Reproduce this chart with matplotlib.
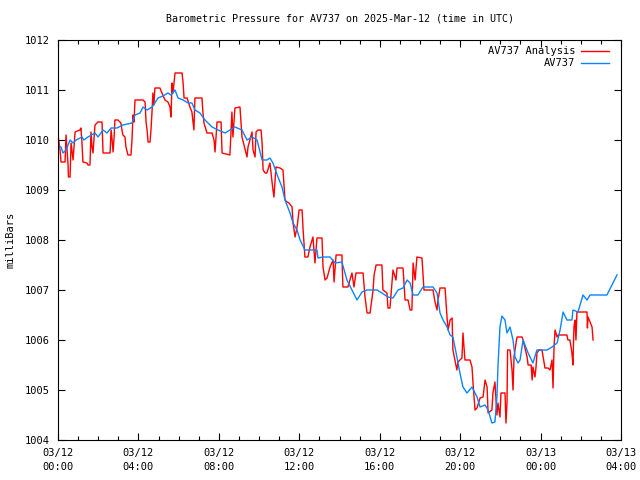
import matplotlib
matplotlib.use("Agg")
import matplotlib.pyplot as plt
from matplotlib.ticker import MultipleLocator

# hours since 2025-03-12 00:00 UTC, pressure in mb
blue_hours = [0.00, 0.15, 0.25, 0.40, 0.60, 0.75, 0.90, 1.19, 1.29, 1.49, 1.84, 1.99, 2.24, 2.44,
              2.64, 2.93, 3.23, 3.68, 3.83, 4.08, 4.23, 4.43, 4.68, 4.82, 4.97, 5.22, 5.47, 5.62,
              5.82, 5.97, 6.22, 6.47, 6.66, 6.81, 7.06, 7.31, 7.66, 7.96, 8.31, 8.55, 8.80, 9.15,
              9.40, 9.65, 9.90, 10.15, 10.39, 10.54, 10.69, 10.94, 11.14, 11.29, 11.54, 11.69,
              11.89, 12.04, 12.28, 12.88, 12.93, 13.18, 13.53, 13.78, 14.12, 14.37, 14.62, 14.87,
              15.12, 15.37, 15.87, 16.11, 16.41, 16.66, 16.91, 17.16, 17.36, 17.51, 17.66, 17.90,
              18.15, 18.65, 18.85, 19.00, 19.15, 19.35, 19.50, 19.64, 19.84, 19.99, 20.14, 20.34,
              20.59, 20.84, 20.99, 21.24, 21.39, 21.58, 21.73, 21.83, 21.88, 21.98, 22.08, 22.23,
              22.33, 22.48, 22.63, 22.73, 22.88, 22.98, 23.13, 23.38, 23.62, 23.82, 24.32, 24.57,
              24.82, 24.97, 25.12, 25.31, 25.56, 25.61, 25.86, 26.11, 26.31, 26.46, 27.30, 27.80]
blue_mb = [1009.86, 1009.86, 1009.74, 1009.80, 1010.00, 1009.94, 1010.00, 1010.06, 1010.00,
           1010.06, 1010.14, 1010.06, 1010.20, 1010.14, 1010.24, 1010.24, 1010.30, 1010.34,
           1010.50, 1010.54, 1010.66, 1010.60, 1010.66, 1010.74, 1010.84, 1010.88, 1010.94,
           1010.90, 1011.00, 1010.84, 1010.80, 1010.74, 1010.74, 1010.60, 1010.54, 1010.40,
           1010.26, 1010.20, 1010.14, 1010.20, 1010.26, 1010.20, 1010.00, 1010.06, 1010.00,
           1009.60, 1009.60, 1009.64, 1009.54, 1009.26, 1009.06, 1008.80, 1008.54, 1008.34,
           1008.20, 1008.00, 1007.80, 1007.80, 1007.64, 1007.66, 1007.66, 1007.54, 1007.56,
           1007.20, 1007.00, 1006.80, 1006.96, 1007.00, 1007.00, 1006.94, 1006.86, 1006.84,
           1007.00, 1007.04, 1007.20, 1007.14, 1006.90, 1006.90, 1007.06, 1007.06, 1006.94,
           1006.54, 1006.40, 1006.26, 1006.10, 1006.06, 1005.66, 1005.34, 1005.06, 1004.94,
           1005.06, 1004.86, 1004.66, 1004.70, 1004.60, 1004.34, 1004.36, 1004.86, 1005.46,
           1006.26, 1006.48, 1006.40, 1006.14, 1006.26, 1006.00, 1005.66, 1005.54, 1005.60,
           1006.00, 1005.74, 1005.54, 1005.80, 1005.80, 1005.86, 1005.94, 1006.20, 1006.56,
           1006.40, 1006.40, 1006.60, 1006.56, 1006.90, 1006.80, 1006.90, 1006.90, 1007.30]

red_hours = [0.00, 0.10, 0.15, 0.35, 0.40, 0.50, 0.52, 0.60, 0.65, 0.75, 0.85, 1.09, 1.14, 1.19,
             1.24, 1.44, 1.49, 1.59, 1.64, 1.69, 1.74, 1.84, 1.99, 2.19, 2.24, 2.59, 2.64, 2.69,
             2.74, 2.79, 2.83, 2.98, 3.13, 3.18, 3.23, 3.33, 3.38, 3.48, 3.63, 3.68, 3.73, 3.78,
             3.83, 4.23, 4.33, 4.38, 4.43, 4.48, 4.58, 4.63, 4.68, 4.72, 4.77, 4.82, 5.07, 5.17,
             5.32, 5.47, 5.57, 5.62, 5.67, 5.72, 5.82, 6.17, 6.22, 6.27, 6.42, 6.56, 6.66, 6.76,
             6.81, 7.16, 7.21, 7.26, 7.41, 7.66, 7.76, 7.81, 7.91, 8.11, 8.16, 8.55, 8.65, 8.70,
             8.80, 9.05, 9.15, 9.40, 9.45, 9.65, 9.70, 9.80, 9.85, 9.95, 10.10, 10.15, 10.20,
             10.30, 10.39, 10.54, 10.69, 10.74, 10.84, 11.04, 11.19, 11.29, 11.39, 11.49, 11.64,
             11.69, 11.79, 11.89, 11.99, 12.14, 12.19, 12.28, 12.43, 12.53, 12.68, 12.78, 12.88,
             13.13, 13.18, 13.28, 13.38, 13.53, 13.68, 13.73, 13.83, 14.12, 14.17, 14.42, 14.62,
             14.72, 14.82, 15.17, 15.27, 15.37, 15.52, 15.67, 15.72, 15.82, 16.11, 16.16, 16.36,
             16.41, 16.51, 16.66, 16.81, 16.86, 17.16, 17.26, 17.41, 17.51, 17.60, 17.66, 17.76,
             17.85, 18.10, 18.15, 18.20, 18.65, 18.75, 18.85, 18.90, 19.00, 19.25, 19.35, 19.40,
             19.50, 19.60, 19.64, 19.74, 19.84, 19.89, 20.09, 20.14, 20.24, 20.49, 20.59, 20.64,
             20.74, 20.84, 20.99, 21.14, 21.24, 21.34, 21.39, 21.58, 21.63, 21.73, 21.83, 21.88,
             21.98, 22.03, 22.23, 22.28, 22.33, 22.36, 22.48, 22.58, 22.63, 22.68, 22.78, 22.83,
             23.08, 23.13, 23.28, 23.33, 23.38, 23.53, 23.58, 23.62, 23.72, 23.77, 23.82, 23.92,
             24.07, 24.22, 24.37, 24.47, 24.57, 24.62, 24.67, 24.72, 24.82, 24.87, 25.31, 25.36,
             25.46, 25.56, 25.61, 25.66, 25.71, 25.76, 25.81, 26.31, 26.33, 26.36, 26.46, 26.56,
             26.61]
red_mb = [1010.10, 1009.80, 1009.56, 1009.56, 1010.10, 1009.50, 1009.26, 1009.26, 1009.94,
          1009.60, 1010.16, 1010.20, 1010.24, 1009.96, 1009.56, 1009.54, 1009.50, 1009.50,
          1010.16, 1009.86, 1009.74, 1010.30, 1010.36, 1010.36, 1009.74, 1009.74, 1010.20,
          1010.00, 1009.76, 1010.06, 1010.40, 1010.40, 1010.34, 1010.20, 1010.10, 1010.06,
          1009.86, 1009.70, 1009.70, 1010.00, 1010.50, 1010.36, 1010.80, 1010.80, 1010.76,
          1010.36, 1010.20, 1009.96, 1009.96, 1010.24, 1010.60, 1010.94, 1010.70, 1011.04,
          1011.04, 1010.94, 1010.80, 1010.76, 1010.66, 1010.46, 1011.14, 1010.94, 1011.34,
          1011.34, 1011.14, 1010.84, 1010.84, 1010.66, 1010.56, 1010.20, 1010.84, 1010.84,
          1010.54, 1010.34, 1010.14, 1010.14, 1010.00, 1009.76, 1010.36, 1010.36, 1009.74,
          1009.70, 1010.56, 1010.06, 1010.64, 1010.66, 1010.06, 1009.66, 1009.86, 1010.16,
          1009.80, 1009.66, 1010.16, 1010.20, 1010.20, 1009.94, 1009.40, 1009.34, 1009.34,
          1009.54, 1009.00, 1008.86, 1009.46, 1009.44, 1009.40, 1008.80, 1008.76, 1008.74,
          1008.66, 1008.34, 1008.06, 1008.26, 1008.60, 1008.60, 1008.20, 1007.66, 1007.66,
          1007.86, 1008.06, 1007.54, 1008.04, 1008.04, 1007.46, 1007.20, 1007.24, 1007.46,
          1007.60, 1007.16, 1007.70, 1007.70, 1007.06, 1007.06, 1007.34, 1007.06, 1007.34,
          1007.34, 1006.86, 1006.54, 1006.54, 1007.00, 1007.30, 1007.50, 1007.50, 1007.00,
          1006.94, 1006.64, 1006.64, 1007.40, 1007.20, 1007.44, 1007.44, 1006.80, 1006.80,
          1006.60, 1006.60, 1007.54, 1007.20, 1007.66, 1007.64, 1007.34, 1007.00, 1007.00,
          1006.76, 1006.60, 1006.80, 1007.04, 1007.04, 1006.44, 1006.20, 1006.40, 1006.44,
          1005.80, 1005.60, 1005.40, 1005.56, 1005.64, 1006.14, 1005.60, 1005.60, 1005.46,
          1005.14, 1004.60, 1004.64, 1004.84, 1004.86, 1005.20, 1005.06, 1004.54, 1004.60,
          1004.94, 1005.16, 1004.50, 1004.74, 1004.46, 1004.94, 1004.94, 1004.34, 1004.74,
          1005.80, 1005.80, 1005.40, 1005.00, 1005.66, 1005.94, 1006.06, 1006.06, 1006.00,
          1005.74, 1005.66, 1005.50, 1005.50, 1005.20, 1005.46, 1005.26, 1005.44, 1005.74,
          1005.80, 1005.80, 1005.44, 1005.44, 1005.40, 1005.60, 1005.04, 1005.86, 1006.20,
          1006.06, 1006.10, 1006.10, 1006.00, 1006.00, 1005.74, 1005.50, 1006.26, 1006.40,
          1006.00, 1006.56, 1006.56, 1006.24, 1006.46, 1006.36, 1006.26, 1006.00]

tick_hours = [0, 4, 8, 12, 16, 20, 24, 28]
tick_labels = ["03/12\n00:00", "03/12\n04:00", "03/12\n08:00", "03/12\n12:00",
               "03/12\n16:00", "03/12\n20:00", "03/13\n00:00", "03/13\n04:00"]

plt.rcParams['font.family'] = ['DejaVu Sans Mono']
plt.rcParams['font.size'] = 7.5

fig = plt.figure(figsize=(6.4, 4.8), dpi=100)
ax = fig.add_axes([58 / 640, 40 / 480, 563 / 640, 400 / 480])

ax.plot(red_hours, red_mb, color='#ff0000', lw=1, label='AV737 Analysis')
ax.plot(blue_hours, blue_mb, color='#0a84ff', lw=1, label='AV737')

ax.set_xlim(0, 28)
ax.set_ylim(1004, 1012)
ax.set_xticks(tick_hours)
ax.set_xticklabels(tick_labels, linespacing=1.45)
ax.xaxis.set_minor_locator(MultipleLocator(1))
ax.set_yticks(range(1004, 1013))
ax.tick_params(which='both', direction='in', top=True, right=True, pad=6)
ax.tick_params(which='major', length=5, width=0.8)
ax.tick_params(which='minor', length=3, width=0.8)
for s in ax.spines.values():
    s.set_linewidth(0.8)

ax.set_ylabel('milliBars', labelpad=6.5)
ax.set_title('Barometric Pressure for AV737 on 2025-Mar-12 (time in UTC)', fontsize=7.2, pad=13.5)

ax.legend(loc='upper right', bbox_to_anchor=(0.989, 1.0), frameon=False, markerfirst=False,
          handlelength=2.6, handletextpad=0.6, borderaxespad=0.2, labelspacing=0.2)

fig.savefig('out.png', dpi=100)
